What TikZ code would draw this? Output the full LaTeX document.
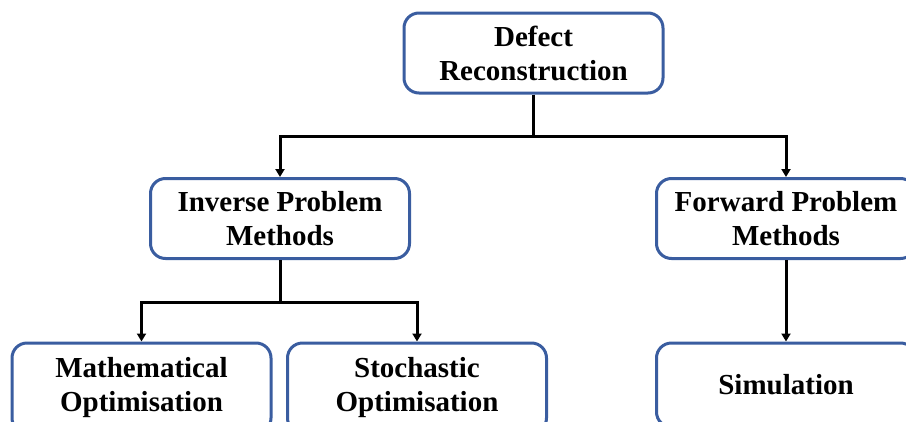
\documentclass[tikz,border=0pt]{standalone}
\usepackage{fontspec}
\setmainfont{Liberation Serif}
\usepackage{xcolor}
\usetikzlibrary{arrows.meta, positioning}
\definecolor{boxblue}{HTML}{3A5DA0}
\tikzset{
  >={Triangle[length=8pt,width=9pt]},
  % Riquadri del diagramma
  box/.style={draw=boxblue, line width=3pt, rounded corners=15pt, fill=white,
    minimum width=259pt, minimum height=80pt, inner sep=0pt, align=center,
    font=\fontsize{29}{34}\selectfont\bfseries},
  box low/.style={box, minimum height=90pt},
  % Connessioni
  connect/.style={line width=3pt, black},
  connect arrow/.style={->, connect}
}
\begin{document}
\begin{tikzpicture}[x=1pt,y=-1pt]
\useasboundingbox (0,0) rectangle (906,421);
\clip (0,0) rectangle (906,421);

% Livello superiore
\node[box] (defect) at (533.5,53) {Defect\\Reconstruction};

% Livello intermedio
\node[box] (inverse) at (280,218.5) {Inverse Problem\\Methods};
\node[box] (forward) at (786,218.5) {Forward Problem\\Methods};

% Livello inferiore
\node[box low] (maths) at (141.5,388) {Mathematical\\Optimisation};
\node[box low] (stoch) at (417,388) {Stochastic\\Optimisation};
\node[box, minimum height=84pt] (sim) at (786,385) {Simulation};

% Diramazioni
\coordinate (split top) at (533.5,136);
\coordinate (split inv) at (280,302);
\draw[connect arrow] (defect.south) -- (split top) -| (inverse.north);
\draw[connect arrow] (split top) -| (forward.north);
\draw[connect arrow] (inverse.south) -- (split inv) -| (maths.north);
\draw[connect arrow] (split inv) -| (stoch.north);
\draw[connect arrow] (forward.south) -- (sim.north);

\end{tikzpicture}
\end{document}
